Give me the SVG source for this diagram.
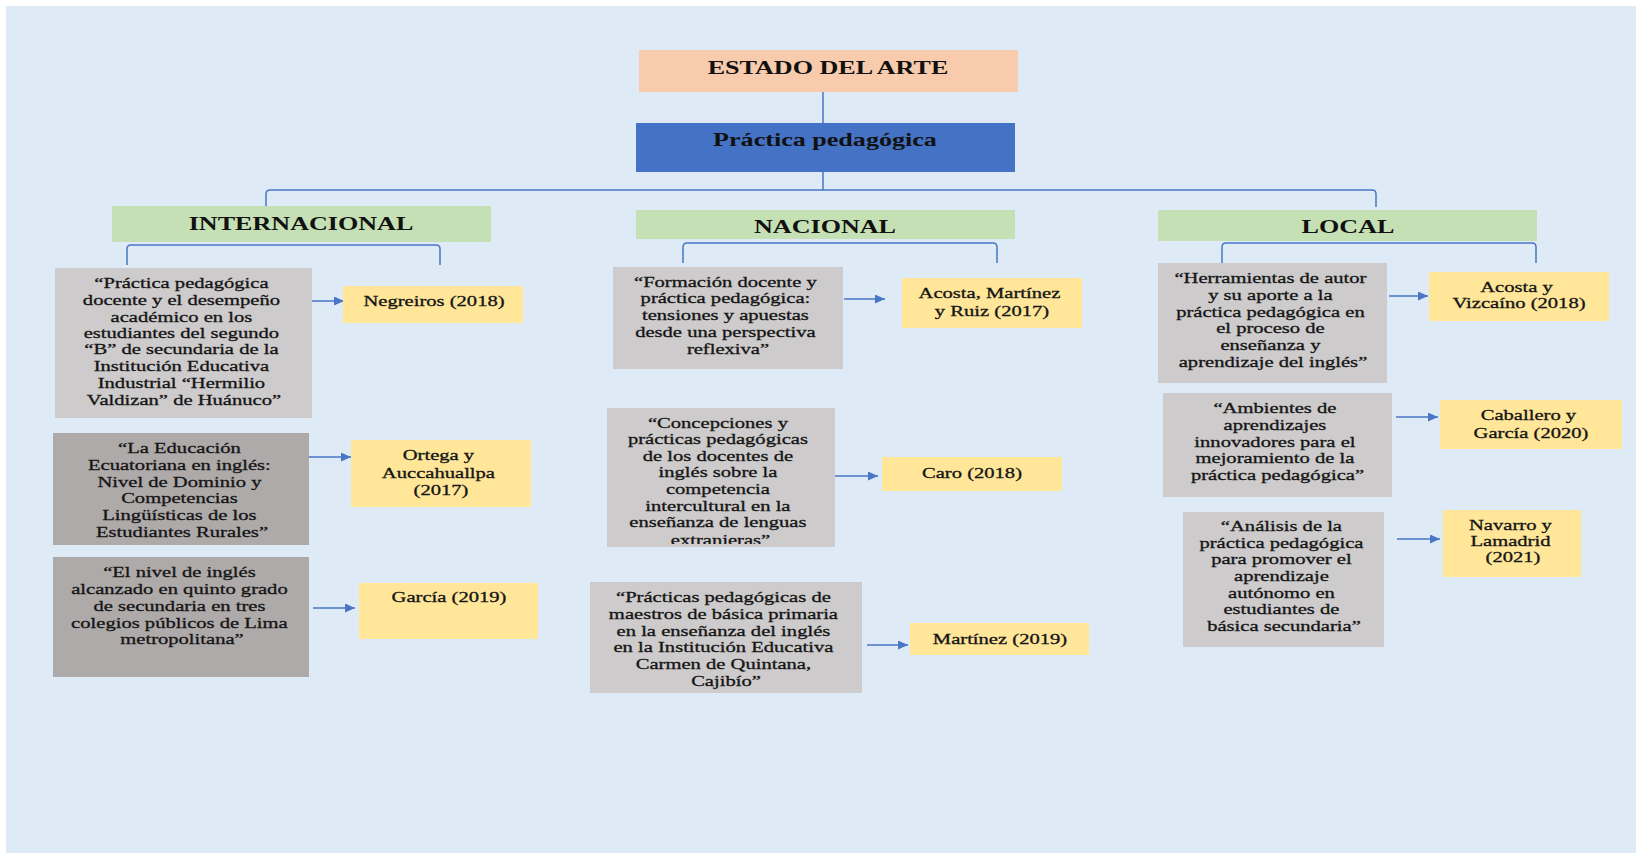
<svg xmlns="http://www.w3.org/2000/svg" width="1636" height="853" viewBox="0 0 1636 853">
<style>
.h{font-family:"Liberation Serif","Times New Roman",serif;font-weight:bold;font-size:18px;fill:#111;text-anchor:middle}
.b{font-family:"Liberation Serif","Times New Roman",serif;font-size:14.5px;fill:#151515;stroke:#151515;stroke-width:0.3;text-anchor:middle}
.ln{fill:none;stroke:#4a76c6;stroke-width:1.5}
.ar{fill:none;stroke:#4a76c6;stroke-width:1.5;marker-end:url(#ah)}
.gl{fill:#cdcbcb}
.gd{fill:#aeaaaa}
.y{fill:#ffe699}
.g{fill:#c5e0b4}
</style>
<defs>
<marker id="ah" markerUnits="userSpaceOnUse" markerWidth="11" markerHeight="9" refX="10" refY="4.5" orient="auto">
<path d="M0,0 L10,4.5 L0,9 Z" fill="#4a76c6"/>
</marker>
<clipPath id="clipC"><rect x="607" y="408" width="228" height="136"/></clipPath>
</defs>
<rect x="0" y="0" width="1636" height="853" fill="#ffffff"/>
<rect x="6" y="6" width="1630" height="847" fill="#deeaf6"/>

<g id="connectors">
<path class="ln" d="M823,92 V123"/>
<path class="ln" d="M823,172 V190"/>
<path class="ln" d="M266,206 V194 Q266,190 270,190 H1372 Q1376,190 1376,194 V207"/>
<path class="ln" d="M127,265 V249 Q127,245 131,245 H436 Q440,245 440,249 V265"/>
<path class="ln" d="M683,263 V247 Q683,243 687,243 H993 Q997,243 997,247 V263"/>
<path class="ln" d="M1222,263 V247 Q1222,243 1226,243 H1532 Q1536,243 1536,247 V263"/>
<path class="ar" d="M305,301 H344"/>
<path class="ar" d="M309,457 H351"/>
<path class="ar" d="M313,608 H355"/>
<path class="ar" d="M844,299 H885"/>
<path class="ar" d="M835,476 H878"/>
<path class="ar" d="M867,645 H908"/>
<path class="ar" d="M1389,296 H1428"/>
<path class="ar" d="M1396,417 H1438"/>
<path class="ar" d="M1397,539 H1440"/>
</g>

<g id="estado">
<rect x="639" y="50" width="379" height="42" fill="#f8cbad"/>
<text class="h" transform="translate(828,0) scale(1.45,1)"><tspan x="0" y="74">ESTADO DEL ARTE</tspan></text>
</g>
<g id="practica">
<rect x="636" y="123" width="379" height="49" fill="#4472c4"/>
<text class="h" transform="translate(825,0) scale(1.45,1)"><tspan x="0" y="146">Práctica pedagógica</tspan></text>
</g>
<g id="internacional">
<rect class="g" x="112" y="206" width="379" height="36"/>
<text class="h" transform="translate(301,0) scale(1.45,1)"><tspan x="0" y="230">INTERNACIONAL</tspan></text>
</g>
<g id="nacional">
<rect class="g" x="636" y="210" width="379" height="29"/>
<text class="h" transform="translate(825,0) scale(1.45,1)"><tspan x="0" y="233">NACIONAL</tspan></text>
</g>
<g id="local">
<rect class="g" x="1158" y="210" width="379" height="31"/>
<text class="h" transform="translate(1348,0) scale(1.45,1)"><tspan x="0" y="233">LOCAL</tspan></text>
</g>

<g id="int-g1">
<rect class="gl" x="55" y="268" width="257" height="150"/>
<text class="b" transform="translate(184,0) scale(1.42,1)">
<tspan x="0" y="288">“Práctica pedagógica</tspan>
<tspan x="0" y="305">docente y el desempeño</tspan>
<tspan x="0" y="322">académico en los</tspan>
<tspan x="0" y="338">estudiantes del segundo</tspan>
<tspan x="0" y="354">“B” de secundaria de la</tspan>
<tspan x="0" y="371">Institución Educativa</tspan>
<tspan x="0" y="388">Industrial “Hermilio</tspan>
<tspan x="0" y="405">Valdizan” de Huánuco”</tspan>
</text>
</g>
<g id="int-y1">
<rect class="y" x="343" y="286" width="180" height="37"/>
<text class="b" transform="translate(434,0) scale(1.42,1)"><tspan x="0" y="306">Negreiros (2018)</tspan></text>
</g>
<g id="int-g2">
<rect class="gd" x="53" y="433" width="256" height="112"/>
<text class="b" transform="translate(182,0) scale(1.42,1)">
<tspan x="0" y="453">“La Educación</tspan>
<tspan x="0" y="470">Ecuatoriana en inglés:</tspan>
<tspan x="0" y="487">Nivel de Dominio y</tspan>
<tspan x="0" y="503">Competencias</tspan>
<tspan x="0" y="520">Lingüísticas de los</tspan>
<tspan x="0" y="537">Estudiantes Rurales”</tspan>
</text>
</g>
<g id="int-y2">
<rect class="y" x="351" y="440" width="180" height="67"/>
<text class="b" transform="translate(441,0) scale(1.42,1)">
<tspan x="0" y="460">Ortega y</tspan>
<tspan x="0" y="478">Auccahuallpa</tspan>
<tspan x="0" y="495">(2017)</tspan>
</text>
</g>
<g id="int-g3">
<rect class="gd" x="53" y="557" width="256" height="120"/>
<text class="b" transform="translate(182,0) scale(1.42,1)">
<tspan x="0" y="577">“El nivel de inglés</tspan>
<tspan x="0" y="594">alcanzado en quinto grado</tspan>
<tspan x="0" y="611">de secundaria en tres</tspan>
<tspan x="0" y="628">colegios públicos de Lima</tspan>
<tspan x="0" y="644">metropolitana”</tspan>
</text>
</g>
<g id="int-y3">
<rect class="y" x="359" y="583" width="179" height="56"/>
<text class="b" transform="translate(449,0) scale(1.42,1)"><tspan x="0" y="602">García (2019)</tspan></text>
</g>

<g id="nac-g1">
<rect class="gl" x="613" y="267" width="230" height="102"/>
<text class="b" transform="translate(728,0) scale(1.42,1)">
<tspan x="0" y="287">“Formación docente y</tspan>
<tspan x="0" y="303">práctica pedagógica:</tspan>
<tspan x="0" y="320">tensiones y apuestas</tspan>
<tspan x="0" y="337">desde una perspectiva</tspan>
<tspan x="0" y="354">reflexiva”</tspan>
</text>
</g>
<g id="nac-y1">
<rect class="y" x="902" y="278" width="180" height="50"/>
<text class="b" transform="translate(992,0) scale(1.42,1)">
<tspan x="0" y="298">Acosta, Martínez</tspan>
<tspan x="0" y="316">y Ruiz (2017)</tspan>
</text>
</g>
<g id="nac-g2">
<rect class="gl" x="607" y="408" width="228" height="139"/>
<g clip-path="url(#clipC)">
<text class="b" transform="translate(720.5,0) scale(1.42,1)">
<tspan x="0" y="428">“Concepciones y</tspan>
<tspan x="0" y="444">prácticas pedagógicas</tspan>
<tspan x="0" y="461">de los docentes de</tspan>
<tspan x="0" y="477">inglés sobre la</tspan>
<tspan x="0" y="494">competencia</tspan>
<tspan x="0" y="511">intercultural en la</tspan>
<tspan x="0" y="527">enseñanza de lenguas</tspan>
<tspan x="0" y="545">extranjeras”</tspan>
</text>
</g>
</g>
<g id="nac-y2">
<rect class="y" x="882" y="457" width="180" height="34"/>
<text class="b" transform="translate(972,0) scale(1.42,1)"><tspan x="0" y="478">Caro (2018)</tspan></text>
</g>
<g id="nac-g3">
<rect class="gl" x="590" y="582" width="272" height="111"/>
<text class="b" transform="translate(726,0) scale(1.42,1)">
<tspan x="0" y="602">“Prácticas pedagógicas de</tspan>
<tspan x="0" y="619">maestros de básica primaria</tspan>
<tspan x="0" y="636">en la enseñanza del inglés</tspan>
<tspan x="0" y="652">en la Institución Educativa</tspan>
<tspan x="0" y="669">Carmen de Quintana,</tspan>
<tspan x="0" y="686">Cajibío”</tspan>
</text>
</g>
<g id="nac-y3">
<rect class="y" x="910" y="623" width="179" height="32"/>
<text class="b" transform="translate(1000,0) scale(1.42,1)"><tspan x="0" y="644">Martínez (2019)</tspan></text>
</g>

<g id="loc-g1">
<rect class="gl" x="1158" y="263" width="229" height="120"/>
<text class="b" transform="translate(1273,0) scale(1.42,1)">
<tspan x="0" y="283">“Herramientas de autor</tspan>
<tspan x="0" y="300">y su aporte a la</tspan>
<tspan x="0" y="317">práctica pedagógica en</tspan>
<tspan x="0" y="333">el proceso de</tspan>
<tspan x="0" y="350">enseñanza y</tspan>
<tspan x="0" y="367">aprendizaje del inglés”</tspan>
</text>
</g>
<g id="loc-y1">
<rect class="y" x="1429" y="272" width="180" height="49"/>
<text class="b" transform="translate(1519,0) scale(1.42,1)">
<tspan x="0" y="292">Acosta y</tspan>
<tspan x="0" y="308">Vizcaíno (2018)</tspan>
</text>
</g>
<g id="loc-g2">
<rect class="gl" x="1163" y="393" width="229" height="104"/>
<text class="b" transform="translate(1277.5,0) scale(1.42,1)">
<tspan x="0" y="413">“Ambientes de</tspan>
<tspan x="0" y="430">aprendizajes</tspan>
<tspan x="0" y="447">innovadores para el</tspan>
<tspan x="0" y="463">mejoramiento de la</tspan>
<tspan x="0" y="480">práctica pedagógica”</tspan>
</text>
</g>
<g id="loc-y2">
<rect class="y" x="1440" y="400" width="182" height="49"/>
<text class="b" transform="translate(1531,0) scale(1.42,1)">
<tspan x="0" y="420">Caballero y</tspan>
<tspan x="0" y="438">García (2020)</tspan>
</text>
</g>
<g id="loc-g3">
<rect class="gl" x="1183" y="512" width="201" height="135"/>
<text class="b" transform="translate(1284,0) scale(1.42,1)">
<tspan x="0" y="531">“Análisis de la</tspan>
<tspan x="0" y="548">práctica pedagógica</tspan>
<tspan x="0" y="564">para promover el</tspan>
<tspan x="0" y="581">aprendizaje</tspan>
<tspan x="0" y="598">autónomo en</tspan>
<tspan x="0" y="614">estudiantes de</tspan>
<tspan x="0" y="631">básica secundaria”</tspan>
</text>
</g>
<g id="loc-y3">
<rect class="y" x="1443" y="510" width="138" height="67"/>
<text class="b" transform="translate(1513,0) scale(1.42,1)">
<tspan x="0" y="530">Navarro y</tspan>
<tspan x="0" y="546">Lamadrid</tspan>
<tspan x="0" y="562">(2021)</tspan>
</text>
</g>
</svg>
